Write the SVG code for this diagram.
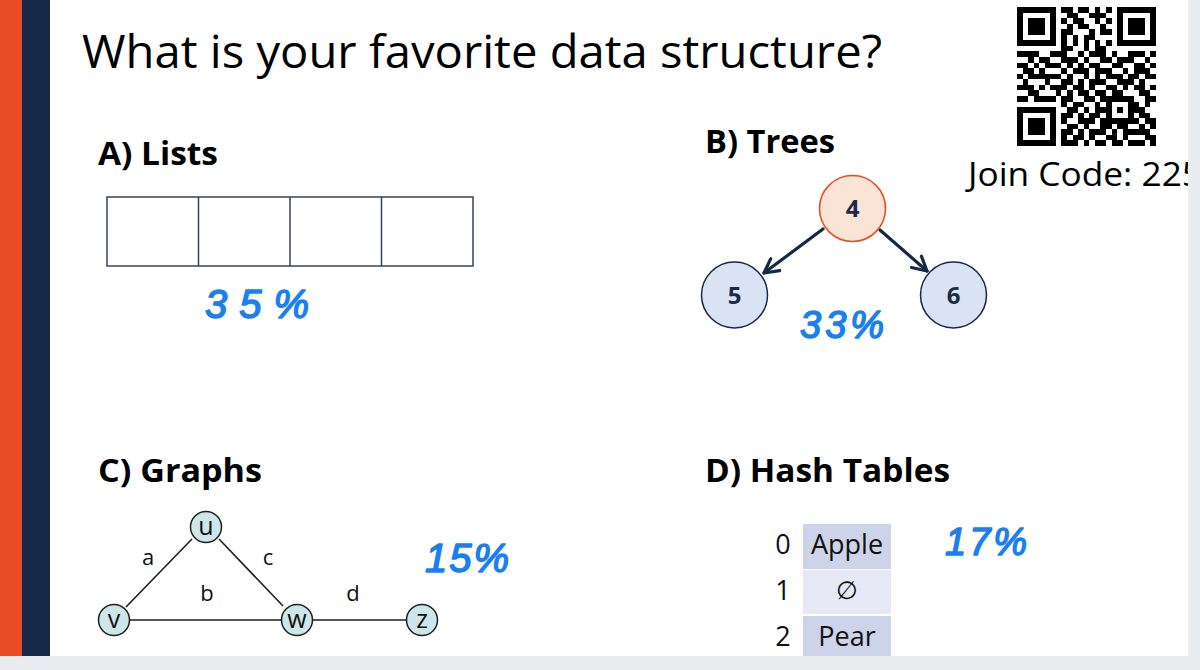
<svg xmlns="http://www.w3.org/2000/svg" width="1200" height="670" viewBox="0 0 1200 670">
<defs>
<style>
.sans{font-family:"Open Sans","Liberation Sans",sans-serif;}
.bold{font-family:"Open Sans","Liberation Sans",sans-serif;font-weight:bold;}
.ink{font-family:"Liberation Sans","DejaVu Sans",sans-serif;fill:#1b7ff0;stroke:#1b7ff0;stroke-width:1.5;stroke-linejoin:round;}
.cell{fill:none;stroke:#34425f;stroke-width:1.5;}
.tnode{stroke:#16284a;stroke-width:1.5;fill:#dae3f3;}
.tlbl{font-family:"Open Sans","Liberation Sans",sans-serif;font-weight:bold;fill:#1c2a48;text-anchor:middle;}
.gnode{fill:#cde6e9;stroke:#1e1e1e;stroke-width:1.5;}
.glbl{font-family:"Open Sans","Liberation Sans",sans-serif;fill:#111;text-anchor:middle;}
.edge{stroke:#1e1e1e;stroke-width:1.6;fill:none;}
.arrow{stroke:#142848;stroke-width:3.2;fill:none;stroke-linecap:round;}
.htxt{font-family:"Open Sans","Liberation Sans",sans-serif;fill:#111;text-anchor:middle;}
</style>
<marker id="chev" viewBox="0 0 18 18" refX="16" refY="9" markerWidth="18" markerHeight="18" markerUnits="userSpaceOnUse" orient="auto">
<path d="M2,1.5 L16,9 L2,16.5" fill="none" stroke="#142848" stroke-width="3.2" stroke-linecap="round" stroke-linejoin="round"/>
</marker>
</defs>
<rect x="0" y="0" width="1200" height="670" fill="#ffffff"/>
<rect x="0" y="0" width="22" height="670" fill="#e84d27"/>
<rect x="22" y="0" width="28" height="670" fill="#16284a"/>

<text class="sans" x="82" y="68" font-size="46" fill="#000" textLength="800" lengthAdjust="spacingAndGlyphs">What is your favorite data structure?</text>

<g id="qr" transform="translate(1017,7) scale(5.56)" shape-rendering="crispEdges">
<path fill="#000" d="M0 0h7v1h-7zM8 0h2v1h-2zM11 0h2v1h-2zM14 0h1v1h-1zM16 0h1v1h-1zM18 0h7v1h-7z
M0 1h1v1h-1zM6 1h1v1h-1zM9 1h2v1h-2zM13 1h3v1h-3zM18 1h1v1h-1zM24 1h1v1h-1z
M0 2h1v1h-1zM2 2h3v1h-3zM6 2h1v1h-1zM8 2h1v1h-1zM10 2h2v1h-2zM14 2h1v1h-1zM16 2h1v1h-1zM18 2h1v1h-1zM20 2h3v1h-3zM24 2h1v1h-1z
M0 3h1v1h-1zM2 3h3v1h-3zM6 3h1v1h-1zM9 3h1v1h-1zM11 3h2v1h-2zM15 3h1v1h-1zM18 3h1v1h-1zM20 3h3v1h-3zM24 3h1v1h-1z
M0 4h1v1h-1zM2 4h3v1h-3zM6 4h1v1h-1zM8 4h2v1h-2zM13 4h1v1h-1zM15 4h2v1h-2zM18 4h1v1h-1zM20 4h3v1h-3zM24 4h1v1h-1z
M0 5h1v1h-1zM6 5h1v1h-1zM8 5h1v1h-1zM10 5h1v1h-1zM12 5h2v1h-2zM18 5h1v1h-1zM24 5h1v1h-1z
M0 6h7v1h-7zM8 6h1v1h-1zM10 6h1v1h-1zM12 6h1v1h-1zM14 6h1v1h-1zM16 6h1v1h-1zM18 6h7v1h-7z
M8 7h2v1h-2zM12 7h1v1h-1zM14 7h2v1h-2z
M0 8h4v1h-4zM6 8h3v1h-3zM11 8h1v1h-1zM13 8h3v1h-3zM17 8h1v1h-1zM20 8h3v1h-3zM24 8h1v1h-1z
M2 9h1v1h-1zM4 9h2v1h-2zM8 9h3v1h-3zM12 9h1v1h-1zM15 9h2v1h-2zM18 9h3v1h-3zM23 9h1v1h-1z
M0 10h2v1h-2zM3 10h1v1h-1zM5 10h3v1h-3zM9 10h1v1h-1zM11 10h1v1h-1zM13 10h2v1h-2zM17 10h2v1h-2zM21 10h2v1h-2zM24 10h1v1h-1z
M1 11h2v1h-2zM4 11h1v1h-1zM8 11h1v1h-1zM10 11h3v1h-3zM14 11h3v1h-3zM19 11h1v1h-1zM21 11h3v1h-3z
M0 12h1v1h-1zM2 12h6v1h-6zM9 12h1v1h-1zM12 12h1v1h-1zM14 12h1v1h-1zM16 12h3v1h-3zM20 12h2v1h-2zM23 12h2v1h-2z
M1 13h1v1h-1zM5 13h1v1h-1zM8 13h2v1h-2zM11 13h1v1h-1zM13 13h3v1h-3zM18 13h3v1h-3zM22 13h1v1h-1z
M0 14h3v1h-3zM4 14h1v1h-1zM6 14h3v1h-3zM10 14h2v1h-2zM13 14h1v1h-1zM16 14h2v1h-2zM19 14h1v1h-1zM21 14h2v1h-2zM24 14h1v1h-1z
M2 15h2v1h-2zM7 15h1v1h-1zM9 15h1v1h-1zM11 15h2v1h-2zM14 15h2v1h-2zM17 15h2v1h-2zM22 15h2v1h-2z
M0 16h2v1h-2zM3 16h4v1h-4zM8 16h2v1h-2zM12 16h2v1h-2zM15 16h6v1h-6zM23 16h2v1h-2z
M8 17h1v1h-1zM10 17h2v1h-2zM14 17h1v1h-1zM16 17h1v1h-1zM20 17h2v1h-2zM23 17h1v1h-1z
M0 18h7v1h-7zM9 18h2v1h-2zM12 18h1v1h-1zM14 18h3v1h-3zM18 18h1v1h-1zM20 18h3v1h-3z
M0 19h1v1h-1zM6 19h1v1h-1zM8 19h2v1h-2zM11 19h1v1h-1zM13 19h2v1h-2zM16 19h1v1h-1zM20 19h1v1h-1zM22 19h2v1h-2z
M0 20h1v1h-1zM2 20h3v1h-3zM6 20h1v1h-1zM8 20h1v1h-1zM11 20h3v1h-3zM15 20h7v1h-7zM23 20h2v1h-2z
M0 21h1v1h-1zM2 21h3v1h-3zM6 21h1v1h-1zM9 21h2v1h-2zM12 21h1v1h-1zM15 21h2v1h-2zM18 21h2v1h-2zM22 21h1v1h-1zM24 21h1v1h-1z
M0 22h1v1h-1zM2 22h3v1h-3zM6 22h1v1h-1zM8 22h2v1h-2zM11 22h1v1h-1zM13 22h3v1h-3zM17 22h1v1h-1zM19 22h5v1h-5z
M0 23h1v1h-1zM6 23h1v1h-1zM8 23h1v1h-1zM10 23h2v1h-2zM13 23h1v1h-1zM16 23h2v1h-2zM19 23h1v1h-1zM23 23h2v1h-2z
M0 24h7v1h-7zM8 24h3v1h-3zM12 24h1v1h-1zM14 24h2v1h-2zM17 24h2v1h-2zM20 24h3v1h-3zM24 24h1v1h-1z"/>
</g>
<text class="sans" x="968" y="186" font-size="33" fill="#000" textLength="234" lengthAdjust="spacingAndGlyphs">Join Code: 225</text>

<g id="lists">
<text class="bold" x="98" y="165" font-size="32" fill="#000" textLength="120" lengthAdjust="spacingAndGlyphs">A) Lists</text>
<rect class="cell" x="107" y="197" width="366" height="69"/>
<line class="cell" x1="198.5" y1="197" x2="198.5" y2="266"/>
<line class="cell" x1="290" y1="197" x2="290" y2="266"/>
<line class="cell" x1="381.5" y1="197" x2="381.5" y2="266"/>
<text class="ink" x="205" y="318" font-size="40" letter-spacing="12" font-style="italic">35%</text>
</g>

<g id="trees">
<text class="bold" x="705" y="153" font-size="32" fill="#000" textLength="130" lengthAdjust="spacingAndGlyphs">B) Trees</text>
<g id="edges-tree">
<line class="arrow" x1="823" y1="229" x2="764" y2="273" marker-end="url(#chev)"/>
<line class="arrow" x1="880" y1="230" x2="927" y2="271" marker-end="url(#chev)"/>
</g>
<g id="node-4"><circle cx="852.5" cy="208.5" r="33" fill="#fae4d6" stroke="#e84d27" stroke-width="1.6"/><text class="tlbl" x="852.5" y="217" font-size="24">4</text></g>
<g id="node-5"><circle class="tnode" cx="734.5" cy="295" r="33"/><text class="tlbl" x="734.5" y="303.5" font-size="24">5</text></g>
<g id="node-6"><circle class="tnode" cx="953.5" cy="295" r="33"/><text class="tlbl" x="953.5" y="303.5" font-size="24">6</text></g>
<text class="ink" x="800" y="338" font-size="38" letter-spacing="4" font-style="italic">33%</text>
</g>

<g id="graphs">
<text class="bold" x="98" y="482" font-size="32" fill="#000" textLength="164" lengthAdjust="spacingAndGlyphs">C) Graphs</text>
<g id="edges-graph">
<line class="edge" x1="192" y1="539" x2="126" y2="607"/>
<line class="edge" x1="219" y1="539" x2="283" y2="606"/>
<line class="edge" x1="130" y1="620" x2="282" y2="620"/>
<line class="edge" x1="313" y1="620" x2="407" y2="620"/>
<text class="glbl" x="148" y="565" font-size="22">a</text>
<text class="glbl" x="268" y="565" font-size="22">c</text>
<text class="glbl" x="207" y="601" font-size="22">b</text>
<text class="glbl" x="353" y="601" font-size="22">d</text>
</g>
<g id="node-u"><circle class="gnode" cx="206" cy="527" r="15.5"/><text class="glbl" x="206" y="535" font-size="25">u</text></g>
<g id="node-v"><circle class="gnode" cx="114" cy="620" r="15.5"/><text class="glbl" x="114" y="628" font-size="25">v</text></g>
<g id="node-w"><circle class="gnode" cx="297" cy="620" r="15.5"/><text class="glbl" x="297" y="628" font-size="25">w</text></g>
<g id="node-z"><circle class="gnode" cx="422" cy="620" r="15.5"/><text class="glbl" x="422" y="628" font-size="25">z</text></g>
<text class="ink" x="425" y="572" font-size="40" letter-spacing="2" font-style="italic">15%</text>
</g>

<g id="hash">
<text class="bold" x="705" y="482" font-size="32" fill="#000" textLength="245" lengthAdjust="spacingAndGlyphs">D) Hash Tables</text>
<rect x="803" y="524" width="88" height="45" fill="#cdd3e8"/>
<rect x="803" y="570" width="88" height="44" fill="#e6e9f5"/>
<rect x="803" y="616" width="88" height="45" fill="#cdd3e8"/>
<text class="htxt" x="783" y="554" font-size="27">0</text>
<text class="htxt" x="783" y="600" font-size="27">1</text>
<text class="htxt" x="783" y="646" font-size="27">2</text>
<text class="htxt" x="847" y="554" font-size="27">Apple</text>
<text class="htxt" x="847" y="599" font-size="25">∅</text>
<text class="htxt" x="847" y="646" font-size="27">Pear</text>
<text class="ink" x="945" y="555" font-size="38" letter-spacing="3" font-style="italic">17%</text>
</g>

<rect x="1188" y="0" width="12" height="670" fill="#e9edf0"/>
<rect x="0" y="656" width="1200" height="14" fill="#e9edf0"/>
</svg>
